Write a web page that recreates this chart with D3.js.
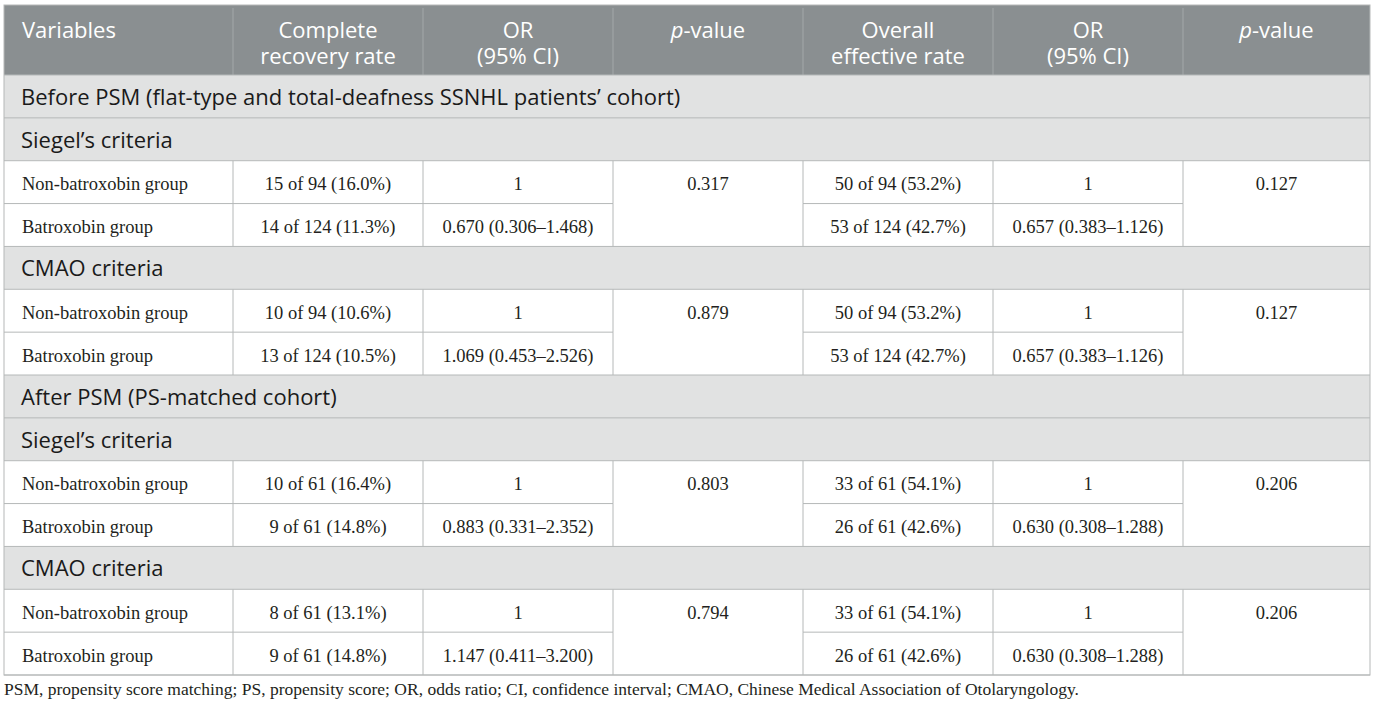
<!DOCTYPE html>
<html>
<head>
<meta charset="utf-8">
<script src="https://cdn.jsdelivr.net/npm/d3@7/dist/d3.min.js"></script>
<style>
  html, body { margin: 0; padding: 0; background: #fff; }
  svg { display: block; }
  .hd { font-family: "Open Sans", sans-serif; font-size: 22px; fill: #fff; }
  .sec { font-family: "Open Sans", sans-serif; font-size: 22px; fill: #1a1a1a; }
  .cell { font-family: "Liberation Serif", "Times New Roman", serif; font-size: 18.5px; fill: #231f20; }
  .note { font-family: "Liberation Serif", "Times New Roman", serif; font-size: 17.5px; fill: #231f20; }
</style>
</head>
<body>
<svg id="chart" width="1375" height="708"></svg>
<script>
// Table content
const headers = [['Variables'], ['Complete', 'recovery rate'], ['OR', '(95% CI)'], ['p-value'],
                 ['Overall', 'effective rate'], ['OR', '(95% CI)'], ['p-value']];
const cohorts = ['Before PSM (flat-type and total-deafness SSNHL patients’ cohort)', 'After PSM (PS-matched cohort)'];
const criteria = ['Siegel’s criteria', 'CMAO criteria'];
const groups = ['Non-batroxobin group', 'Batroxobin group'];

// one entry per cohort x criteria block, two groups each
const recoveryRate = [
  ['15 of 94 (16.0%)', '14 of 124 (11.3%)'],
  ['10 of 94 (10.6%)', '13 of 124 (10.5%)'],
  ['10 of 61 (16.4%)', '9 of 61 (14.8%)'],
  ['8 of 61 (13.1%)', '9 of 61 (14.8%)']
];
const recoveryOR = [
  ['1', '0.670 (0.306–1.468)'],
  ['1', '1.069 (0.453–2.526)'],
  ['1', '0.883 (0.331–2.352)'],
  ['1', '1.147 (0.411–3.200)']
];
const recoveryP = ['0.317', '0.879', '0.803', '0.794'];
const effectiveRate = [
  ['50 of 94 (53.2%)', '53 of 124 (42.7%)'],
  ['50 of 94 (53.2%)', '53 of 124 (42.7%)'],
  ['33 of 61 (54.1%)', '26 of 61 (42.6%)'],
  ['33 of 61 (54.1%)', '26 of 61 (42.6%)']
];
const effectiveOR = [
  ['1', '0.657 (0.383–1.126)'],
  ['1', '0.657 (0.383–1.126)'],
  ['1', '0.630 (0.308–1.288)'],
  ['1', '0.630 (0.308–1.288)']
];
const effectiveP = ['0.127', '0.127', '0.206', '0.206'];
const footnote = 'PSM, propensity score matching; PS, propensity score; OR, odds ratio; CI, confidence interval; CMAO, Chinese Medical Association of Otolaryngology.';

// layout
const colEdges = [4, 233, 423, 613, 803, 993, 1183, 1370];
const tableTop = 5, headBottom = 75, tableBottom = 675;
const lineCol = '#b5b8b8';

// build row list
const rows = [];
let block = 0;
cohorts.forEach(c => {
  rows.push({ type: 'section', text: c });
  criteria.forEach(cr => {
    rows.push({ type: 'section', text: cr });
    groups.forEach((g, gi) => {
      rows.push({ type: 'data', gi, block,
        cells: [g, recoveryRate[block][gi], recoveryOR[block][gi], recoveryP[block],
                effectiveRate[block][gi], effectiveOR[block][gi], effectiveP[block]] });
    });
    block++;
  });
});

const y = d3.scaleBand().domain(d3.range(rows.length)).range([headBottom, tableBottom]).padding(0);
const rh = y.bandwidth();
const colMid = i => (colEdges[i] + colEdges[i + 1]) / 2;
const tableW = colEdges[colEdges.length - 1] - colEdges[0];

const svg = d3.select('#chart');

// header
svg.append('rect').attr('x', colEdges[0]).attr('y', tableTop)
  .attr('width', tableW).attr('height', headBottom - tableTop)
  .attr('fill', '#8a8f91');
svg.selectAll('.hsep').data(colEdges.slice(1, -1)).enter().append('line')
  .attr('x1', d => d).attr('x2', d => d).attr('y1', tableTop + 3).attr('y2', headBottom)
  .attr('stroke', '#a3a8a9').attr('stroke-width', 1);

// one text per header cell, lines as tspans
headers.forEach((h, i) => {
  const x = i === 0 ? 22 : colMid(i);
  const t = svg.append('text').attr('class', 'hd')
    .attr('x', x).attr('y', 38)
    .attr('text-anchor', i === 0 ? 'start' : 'middle');
  h.forEach((line, li) => {
    if (line === 'p-value') {
      t.append('tspan').attr('font-style', 'italic').text('p');
      t.append('tspan').text('-value');
    } else {
      const s = t.append('tspan').text(line);
      if (li > 0) s.attr('x', x).attr('dy', 26);
    }
  });
});

// rows
const rowG = svg.selectAll('.row').data(rows).enter().append('g')
  .attr('transform', (d, i) => `translate(0,${y(i)})`);

const secRows = rowG.filter(d => d.type === 'section');
secRows.append('rect')
  .attr('x', colEdges[0]).attr('width', tableW).attr('height', rh)
  .attr('fill', '#e1e2e2');
secRows.append('text').attr('class', 'sec')
  .attr('x', 21).attr('y', 30).text(d => d.text);

const dataRows = rowG.filter(d => d.type === 'data');
dataRows.append('rect')
  .attr('x', colEdges[0]).attr('width', tableW).attr('height', rh)
  .attr('fill', '#fff');
dataRows.selectAll('text')
  .data(d => d.cells.map((c, ci) => ({ c, ci, gi: d.gi }))
    .filter(e => !((e.ci === 3 || e.ci === 6) && e.gi === 1)))
  .enter().append('text').attr('class', 'cell')
  .attr('x', d => d.ci === 0 ? 22 : colMid(d.ci))
  .attr('y', 29.5)
  .attr('text-anchor', d => d.ci === 0 ? 'start' : 'middle')
  .text(d => d.c);

// horizontal lines
rows.forEach((r, i) => {
  const yy = y(i);
  if (r.type === 'data' && r.gi === 1) {
    // no line through merged p-value cells
    [[0, 3], [4, 6]].forEach(([a, b]) => {
      svg.append('line').attr('x1', colEdges[a]).attr('x2', colEdges[b])
        .attr('y1', yy).attr('y2', yy).attr('stroke', lineCol);
    });
  } else {
    svg.append('line').attr('x1', colEdges[0]).attr('x2', colEdges[7])
      .attr('y1', yy).attr('y2', yy).attr('stroke', lineCol);
  }
});
svg.append('line').attr('x1', colEdges[0]).attr('x2', colEdges[7])
  .attr('y1', tableBottom).attr('y2', tableBottom).attr('stroke', lineCol);

// vertical lines in data rows
rows.forEach((r, i) => {
  if (r.type !== 'data') return;
  colEdges.slice(1, -1).forEach(x => {
    svg.append('line').attr('x1', x).attr('x2', x)
      .attr('y1', y(i)).attr('y2', y(i) + rh).attr('stroke', lineCol);
  });
});

// outer border
svg.append('rect').attr('x', colEdges[0]).attr('y', tableTop)
  .attr('width', tableW).attr('height', tableBottom - tableTop)
  .attr('fill', 'none').attr('stroke', lineCol);

svg.append('text').attr('class', 'note').attr('x', 4).attr('y', 695).text(footnote);
</script>
</body>
</html>
